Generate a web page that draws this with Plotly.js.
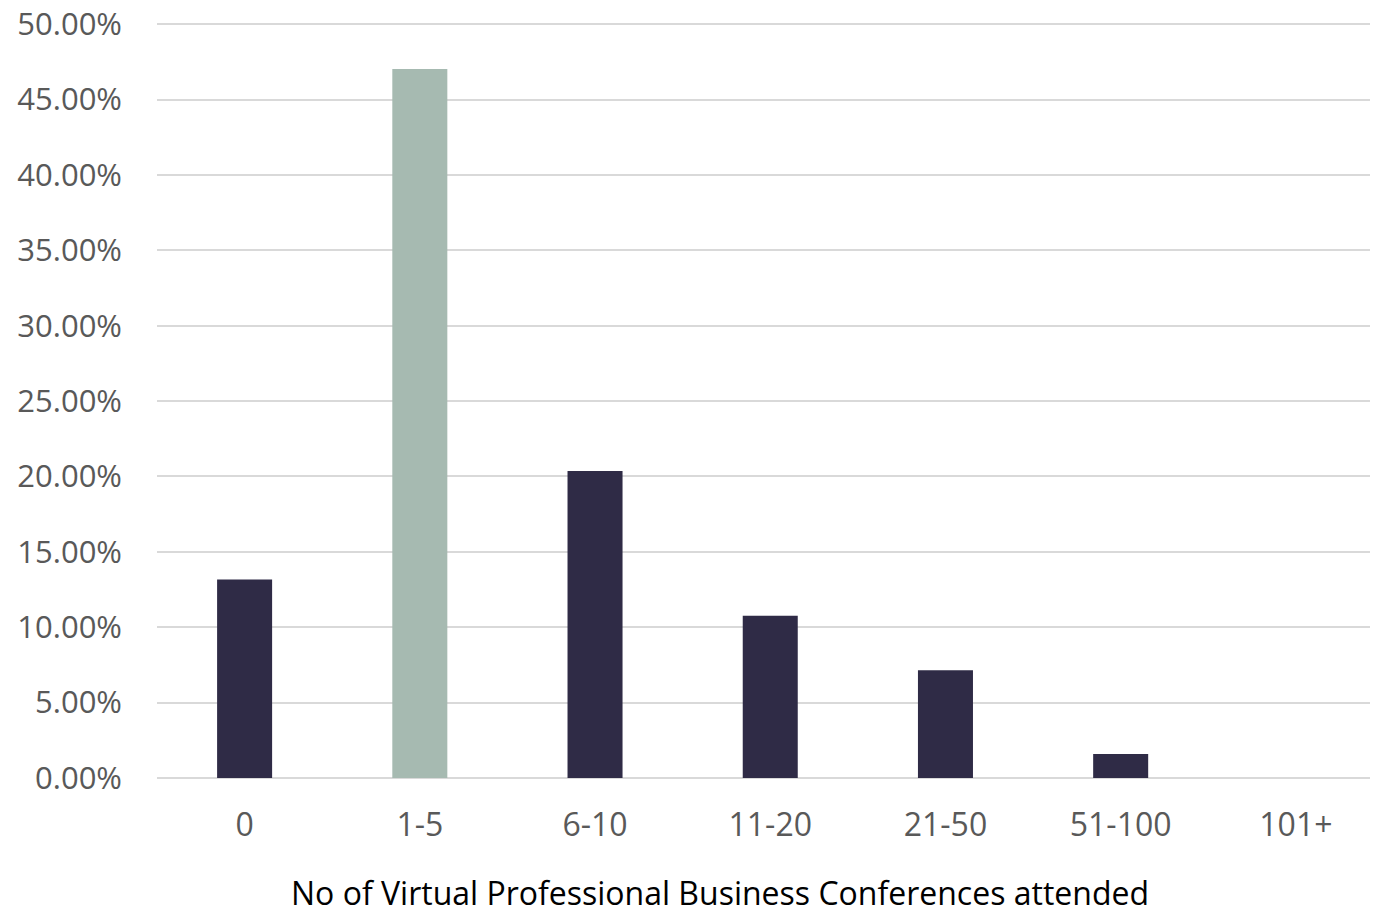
<!DOCTYPE html>
<html>
<head>
<meta charset="utf-8">
<script src="https://cdn.plot.ly/plotly-3.0.1.min.js"></script>
<style>
  html, body { margin: 0; padding: 0; background: #ffffff; }
  #chart { width: 1384px; height: 916px; }
</style>
</head>
<body>
<div id="chart"></div>
<script>
// Share of respondents by number of virtual professional business conferences attended
const categories = ['0', '1-5', '6-10', '11-20', '21-50', '51-100', '101+'];
const shares = [0.1316, 0.4703, 0.2036, 0.1077, 0.0715, 0.0159, 0];
const highlightCategory = '1-5';
const tickValues = [0, 0.05, 0.10, 0.15, 0.20, 0.25, 0.30, 0.35, 0.40, 0.45, 0.50];
const xAxisTitle = 'No of Virtual Professional Business Conferences attended';

const darkColor = '#2f2b46';
const lightColor = '#a6bab1';
const barColors = categories.map(c => c === highlightCategory ? lightColor : darkColor);

const fontFamily = '"Open Sans", "Liberation Sans", sans-serif';
const fontSize = 32;
const yTickSize = 31;

const trace = {
  type: 'bar',
  x: categories,
  y: shares,
  marker: { color: barColors, line: { width: 0 } },
  hoverinfo: 'x+y'
};

const layout = {
  width: 1384,
  height: 916,
  margin: { l: 157, r: 14, t: 23, b: 138 },
  paper_bgcolor: '#ffffff',
  plot_bgcolor: '#ffffff',
  bargap: 0.686,
  showlegend: false,
  font: { family: fontFamily, color: '#595959', size: fontSize },
  xaxis: {
    type: 'category',
    range: [-0.5, 6.423],
    showgrid: false,
    showline: false,
    zeroline: false,
    ticks: '',
    ticklabelstandoff: 25,
    tickfont: { family: fontFamily, size: fontSize, color: '#595959' },
    automargin: false
  },
  yaxis: {
    range: [0, 0.5008],
    tickvals: tickValues,
    tickformat: '.2%',
    showgrid: true,
    gridcolor: '#d9d9d9',
    gridwidth: 2,
    zeroline: true,
    zerolinecolor: '#d9d9d9',
    zerolinewidth: 2,
    showline: false,
    ticks: '',
    ticklabelstandoff: 34,
    ticklabeloverflow: 'allow',
    tickfont: { family: fontFamily, size: yTickSize, color: '#595959' },
    automargin: false
  },
  annotations: [{
    text: xAxisTitle,
    xref: 'paper',
    yref: 'paper',
    x: 0.464,
    y: -0.152,
    xanchor: 'center',
    yanchor: 'middle',
    showarrow: false,
    font: { family: fontFamily, size: fontSize, color: '#000000' }
  }]
};

Plotly.newPlot('chart', [trace], layout, { displayModeBar: false, staticPlot: true });
</script>
</body>
</html>
